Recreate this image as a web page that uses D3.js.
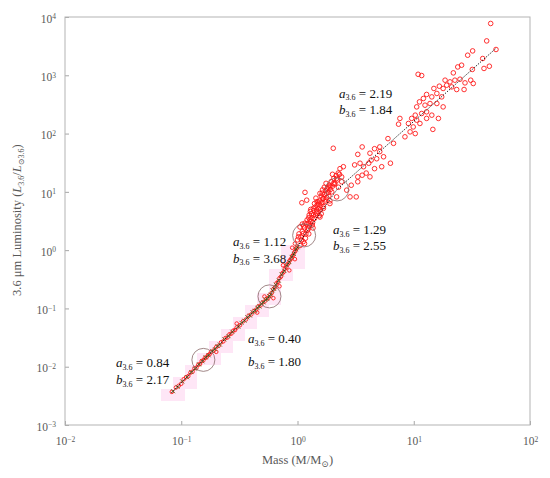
<!DOCTYPE html>
<html>
<head>
<meta charset="utf-8">
<script src="https://cdn.jsdelivr.net/npm/d3@7"></script>
<style>
  body { margin: 0; background: #fff; }
  svg text { font-family: "Liberation Serif", "DejaVu Serif", serif; }
</style>
</head>
<body>
<div id="chart-area"></div>
<script>
// red points, M > ~1 Msun
var highMass = [45.9,42.4,51.0,32.1,29.1,39.2,40.2,44.7,31.9,25.8,23.9,21.9,10.9,11.7,30.9,32.5,27.6,25.0,22.6,20.5,
	18.6,19.2,21.2,17.9,16.6,14.9,15.8,23.4,27.1,17.4,14.3,12.9,12.1,15.8,13.8,12.5,17.9,11.2,10.6,11.7,
	12.9,10.3,9.6,10.6,11.3,12.9,14.3,16.3,7.6,7.4,9.0,9.9,9.3,10.3,8.4,14.6,6.7,6.0,5.1,4.6,
	4.2,3.6,3.3,2.03,5.1,5.5,4.8,4.3,6.3,5.3,4.6,4.1,3.7,3.45,3.1,3.9,3.6,3.3,4.2,3.3,
	2.9,2.65,2.4,2.48,2.32,2.24,2.17,2.03,1.9,1.78,1.67,1.56,1.51,1.16,1.2,1.09,2.83,3.2,2.17,1.9,
	1.67,1.46,1.37,1.56,1.28,1.16,1.05,1.24,1.12,1.02,
	1.05,1.08,1.10,1.12,1.15,1.18,1.2,1.22,1.25,1.27,1.3,1.32,1.35,1.38,1.4,1.42,1.45,1.48,1.5,1.52,
	1.55,1.58,1.6,1.62,1.65,1.7,1.72,1.75,1.78,1.8,1.85,1.88,1.92,1.95,2.0,2.05,2.1,2.15,2.2,2.25,
	2.3,2.4,1.3,1.25,1.15,1.4,1.6,1.7,1.9,2.0,1.1,1.36,0.98,1.0,0.95,1.03,
	1.07,1.13,1.17,1.21,1.24,1.29,1.33,1.37,1.43,1.47,1.53,1.57,1.63,1.67,1.73,1.83,1.97,2.08,1.26,1.34,
	1.44,1.54,1.64,1.76,1.86];
var highLum = [7740,3890,2770,2620,2210,1940,1310,1430,1260,1490,1390,1100,1040,990,824,723,741,857,824,771,
	824,676,632,594,650,594,488,570,570,426,426,469,400,328,328,307,287,350,287,221,
	236,207,182,170,149,182,207,182,182,145,149,130,107,100,88,118,68,82,59,55,
	46,59,44,56,49,40,37,35,31,27,25,31,27,31,29,21,19.3,18.1,18.1,14.9,
	13.0,10.7,14.9,27,25,21,17,13.9,12.2,9.4,7.7,9.4,6.7,9.8,7.2,6.5,8.2,8.2,8.2,6.3,
	5.2,4.9,4.0,3.7,3.3,2.9,2.5,2.35,1.93,1.69,
	1.2,1.5,2.1,1.4,2.4,1.9,2.8,2.2,3.6,2.6,3.1,4.2,3.0,4.8,3.5,5.5,4.3,6.0,4.6,5.2,
	7.0,5.8,8.5,6.5,7.6,9.0,6.8,10.5,8.0,11.5,9.8,13,11,15,12.5,17,14,19,16,12,
	20,18,5.0,1.9,1.3,6.3,4.2,12,7.0,20,2.8,2.4,1.1,1.5,1.3,1.9,
	1.7,2.6,1.6,3.3,2.9,4.6,3.6,5.2,3.9,6.8,6.2,4.9,9.5,5.6,7.3,12,10,13.5,4.0,2.7,
	7.8,3.9,10.8,14,8.5];

// red points, low mass sequence
var lowMass = [0.083,0.09,0.095,0.1,0.105,0.11,0.115,0.12,0.125,0.13,0.135,0.14,0.145,0.15,0.155,0.16,0.165,0.17,0.175,0.18,
	0.19,0.2,0.21,0.22,0.23,0.24,0.25,0.26,0.27,0.28,0.29,0.3,0.32,0.34,0.36,0.38,0.4,0.42,0.44,0.46,
	0.48,0.5,0.52,0.54,0.56,0.58,0.6,0.62,0.64,0.66,0.68,0.7,0.72,0.74,0.76,0.78,0.8,0.82,0.84,0.86,
	0.88,0.9,0.92,0.94,0.96,0.98,0.62,0.7,0.75,0.85,0.9,0.95,0.45,0.52,0.2,0.3];
var lowLum = [0.0037,0.0044,0.0047,0.0051,0.0061,0.0066,0.0069,0.0079,0.0082,0.0094,0.0096,0.0108,0.0111,0.0125,0.0129,0.0142,0.0145,0.0158,0.0163,0.0178,
	0.0190,0.0218,0.0229,0.0262,0.0272,0.0310,0.0318,0.0360,0.0370,0.0415,0.0425,0.0470,0.0515,0.0600,0.0645,0.0745,0.0790,0.0900,0.0950,0.108,
	0.112,0.126,0.131,0.146,0.151,0.170,0.184,0.214,0.230,0.27,0.285,0.33,0.35,0.40,0.42,0.48,0.51,0.57,0.60,0.67,
	0.71,0.79,0.83,0.92,0.97,1.06,0.15,0.24,0.55,0.45,1.1,0.7,0.085,0.16,0.018,0.055];

// olive crosses
var crossMass = [0.085,0.093,0.102,0.112,0.122,0.132,0.142,0.152,0.162,0.172,0.185,0.195,0.205,0.215,0.235,0.255,0.275,0.31,0.33,0.35,
	0.37,0.39,0.41,0.43,0.45,0.47,0.49,0.51,0.53,0.55,0.57,0.59,0.61,0.63,0.65,0.69,0.73,0.77,0.81,0.85,0.89,0.93,0.97,1.0];
var crossLum = [0.0038,0.0045,0.0056,0.0066,0.0081,0.0092,0.0110,0.0124,0.0145,0.0157,0.0186,0.0200,0.0226,0.0240,0.0295,0.0335,0.0398,0.0485,0.0565,0.0615,
	0.0705,0.0755,0.0860,0.0910,0.103,0.108,0.121,0.127,0.141,0.145,0.163,0.173,0.204,0.216,0.255,0.300,0.385,0.440,0.550,0.625,0.765,0.86,1.04,1.12];

// broken power-law fit and its break points
var fitMass = [0.083,0.155,0.574,1.14,2.19,51];
var fitLum = [0.0036,0.0131,0.161,1.79,11.0,2900];
var breakMass = [0.155,0.574,1.14,2.19];
var breakLum = [0.0131,0.161,1.79,11.0];

// a, b coefficients per segment
var coefA = ["2.19","1.29","1.12","0.40","0.84"];
var coefB = ["1.84","2.55","3.68","1.80","2.17"];

var xTicks = [0.01,0.1,1,10,100];
var yTicks = [0.001,0.01,0.1,1,10,100,1000,10000];

/******************************
*	DIMENSIONS AND MARGINS	  *
******************************/
var margin = { top: 17, right: 20, bottom: 53, left: 65 };
var width = 550 - margin.left - margin.right,
	height = 478 - margin.top - margin.bottom;

var svg = d3.select("#chart-area")
	.append("svg")
		.attr("width", 550)
		.attr("height", 478);
var g = svg.append("g")
		.attr("transform", "translate(" + margin.left + ", " + margin.top + ")");

var x = d3.scaleLog().domain([0.01, 100]).range([0, width]);
var y = d3.scaleLog().domain([0.001, 10000]).range([height, 0]);

// superscript tick labels 10^n
function powLabel(sel) {
	sel.each(function(d) {
		var t = d3.select(this).text("");
		t.append("tspan").text("10");
		t.append("tspan")
			.attr("dy", "-0.45em")
			.attr("font-size", "7.5px")
			.text(Math.round(Math.log10(d)).toString().replace("-", "\u2212"));
	});
}

var xAxisGroup = g.append("g")
	.attr("transform", "translate(0, " + height + ")")
	.call(d3.axisBottom(x).tickValues(xTicks).tickSize(-4).tickPadding(12));
xAxisGroup.selectAll("text").call(powLabel);

var yAxisGroup = g.append("g")
	.call(d3.axisLeft(y).tickValues(yTicks).tickSize(-4).tickPadding(9));
yAxisGroup.selectAll("text").attr("dy", "0.45em").call(powLabel);

[xAxisGroup, yAxisGroup].forEach(function(a) {
	a.select(".domain").remove();
	a.selectAll("line").attr("stroke", "#a6a6a6");
	a.selectAll("text").attr("fill", "#595959").attr("font-size", "11.5px");
});

// frame
g.append("rect")
	.attr("width", width)
	.attr("height", height)
	.attr("fill", "none")
	.attr("stroke", "#b3b3b3");

/******************************
*	PINK DENSITY CELLS		  *
******************************/
var cell = 12;
var cells = new Set();
lowMass.concat(crossMass).forEach(function(m, i) {
	var l = i < lowMass.length ? lowLum[i] : crossLum[i - lowMass.length];
	cells.add(Math.floor(x(m) / cell) + "," + Math.floor(y(l) / cell));
});
g.append("g").selectAll("rect")
	.data(Array.from(cells))
	.enter().append("rect")
		.attr("x", function(k) { return +k.split(",")[0] * cell; })
		.attr("y", function(k) { return +k.split(",")[1] * cell; })
		.attr("width", cell)
		.attr("height", cell)
		.attr("fill", "#fee6f6");

/******************************
*			POINTS			  *
******************************/
var red = highMass.map(function(m, i) { return [m, highLum[i]]; })
	.concat(lowMass.map(function(m, i) { return [m, lowLum[i]]; }));

g.append("g").selectAll("circle")
	.data(red)
	.enter().append("circle")
		.attr("cx", function(d) { return x(d[0]); })
		.attr("cy", function(d) { return y(d[1]); })
		.attr("r", function(d) { return d[0] < 1 ? 1.8 : 2.3; })
		.attr("fill", "none")
		.attr("stroke", "#ff1a1a")
		.attr("stroke-width", 0.9);

g.append("g").selectAll("path")
	.data(crossMass.map(function(m, i) { return [m, crossLum[i]]; }))
	.enter().append("path")
		.attr("transform", function(d) { return "translate(" + x(d[0]) + "," + y(d[1]) + ")"; })
		.attr("d", "M-2,-2L2,2M-2,2L2,-2")
		.attr("stroke", "#6f7030")
		.attr("stroke-width", 1);

// fit line
var line = d3.line()
	.x(function(d) { return x(d[0]); })
	.y(function(d) { return y(d[1]); });
g.append("path")
	.datum(fitMass.map(function(m, i) { return [m, fitLum[i]]; }))
	.attr("d", line)
	.attr("fill", "none")
	.attr("stroke", "#111")
	.attr("stroke-width", 1)
	.attr("stroke-dasharray", "1.2,1.4");

// break circles
g.append("g").selectAll("circle")
	.data(breakMass.map(function(m, i) { return [m, breakLum[i]]; }))
	.enter().append("circle")
		.attr("cx", function(d) { return x(d[0]); })
		.attr("cy", function(d) { return y(d[1]); })
		.attr("r", 11.5)
		.attr("fill", "none")
		.attr("stroke", "#8a6a6a")
		.attr("stroke-width", 0.8);

/******************************
*		ANNOTATIONS			  *
******************************/
// anchor of each label block in data space, gap to the b line in px
var labelMass = [2.28, 2.02, 0.279, 0.375, 0.0275];
var labelLum = [413, 1.88, 1.17, 0.0254, 0.00984];
var labelGap = [16.5, 16, 16.5, 23, 17];

function coefText(sel, sym, val) {
	sel.append("tspan").attr("font-style", "italic").text(sym);
	sel.append("tspan").attr("font-size", "8px").attr("dy", "2.5").text("3.6");
	sel.append("tspan").attr("dy", "-2.5").text(" = " + val);
}

coefA.forEach(function(a, i) {
	var px = x(labelMass[i]), py = y(labelLum[i]);
	var ta = g.append("text").attr("x", px).attr("y", py).attr("font-size", "13px").attr("fill", "#111");
	coefText(ta, "a", a);
	var tb = g.append("text").attr("x", px).attr("y", py + labelGap[i]).attr("font-size", "13px").attr("fill", "#111");
	coefText(tb, "b", coefB[i]);
});

/******************************
*		AXIS TITLES			  *
******************************/
var xt = g.append("text")
	.attr("x", x(1))
	.attr("y", height + 39)
	.attr("text-anchor", "middle")
	.attr("font-size", "12.5px")
	.attr("fill", "#595959");
xt.append("tspan").text("Mass (M/M");
xt.append("tspan").attr("font-size", "9px").attr("dy", "3").text("\u2299");
xt.append("tspan").attr("dy", "-3").text(")");

var yt = g.append("text")
	.attr("transform", "translate(" + (21 - margin.left) + ", " + (y(1) - 30) + ") rotate(-90)")
	.attr("text-anchor", "middle")
	.attr("font-size", "12.5px")
	.attr("fill", "#595959");
yt.append("tspan").text("3.6 \u03bcm Luminosity (");
yt.append("tspan").attr("font-style", "italic").text("L");
yt.append("tspan").attr("font-size", "8px").attr("dy", "2.5").text("3.6");
yt.append("tspan").attr("dy", "-2.5").text("/");
yt.append("tspan").attr("font-style", "italic").text("L");
yt.append("tspan").attr("font-size", "8px").attr("dy", "2.5").text("\u22993.6");
yt.append("tspan").attr("dy", "-2.5").text(")");
</script>
</body>
</html>
